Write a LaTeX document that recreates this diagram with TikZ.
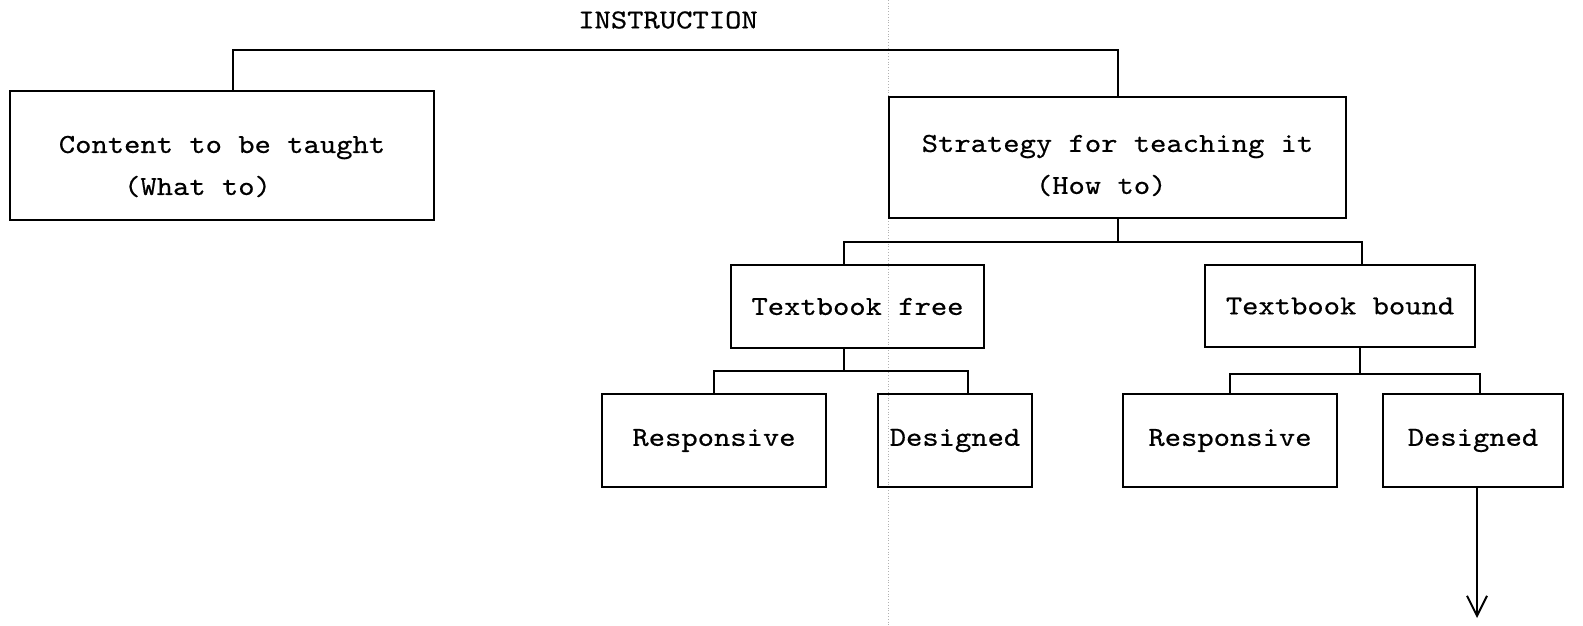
\documentclass[tikz,border=0pt]{standalone}
\usepackage{fontspec}
\newfontfamily\tw{lmmono10-regular.otf}[FakeStretch=1.13,FakeBold=0.5]
\usetikzlibrary{arrows.meta}
\begin{document}
\begin{tikzpicture}[x=1pt,y=-1pt,
  txt/.style={font=\tw\fontsize{27.5}{42}\selectfont},
  box/.style={draw, line width=2pt, inner sep=0pt, txt, align=center},
  conn/.style={line width=2pt},
  fold/.style={gray!60, line width=0.8pt, dotted}]
\useasboundingbox (0,0) rectangle (1583,625);
\draw[fold] (888,0) -- (888,625);
\node[txt] (instr) at (668,20) {INSTRUCTION};
\node[box, minimum width=424pt, minimum height=129pt] (content) at (222,155.5) {};
\node[txt, align=left] (contentlbl) at ([yshift=-11pt]content.center)
  {Content to be taught\\\phantom{Cont}(What to)};
\node[box, minimum width=457pt, minimum height=121pt] (strategy) at (1117.5,157.5) {};
\node[txt, align=left] (strategylbl) at ([yshift=-10pt]strategy.center)
  {Strategy for teaching it\\\phantom{Strateg}(How to)};
\node[box, minimum width=253pt, minimum height=83pt] (free) at (857.5,306.5) {Textbook free};
\node[box, minimum width=270pt, minimum height=82pt] (bound) at (1340,306) {Textbook bound};
\node[box, minimum width=224pt, minimum height=93pt] (resp1) at (714,440.5) {Responsive};
\node[box, minimum width=154pt, minimum height=93pt] (des1) at (955,440.5) {Designed};
\node[box, minimum width=214pt, minimum height=93pt] (resp2) at (1230,440.5) {Responsive};
\node[box, minimum width=180pt, minimum height=93pt] (des2) at (1473,440.5) {Designed};
\coordinate (bar1) at (668,49.5);
\coordinate (bar2) at (1117.5,242);
\coordinate (bar3) at (844,371);
\coordinate (bar4) at (1360,374);
\coordinate (arrend) at (1477,618);
\draw[conn] ([xshift=11pt]content.north) |- (bar1) -| (strategy.north);
\draw[conn] (strategy.south) -- (bar2);
\draw[conn] ([xshift=-13.5pt]free.north) |- (bar2) -| ([xshift=22pt]bound.north);
\draw[conn] ([xshift=-13.5pt]free.south) -- (bar3);
\draw[conn] (resp1.north) |- (bar3) -| ([xshift=13pt]des1.north);
\draw[conn] ([xshift=20pt]bound.south) -- (bar4);
\draw[conn] (resp2.north) |- (bar4) -| ([xshift=7pt]des2.north);
\draw[conn, -{Straight Barb[length=20pt,width=20pt,line width=2pt]}] ([xshift=4pt]des2.south) -- (arrend);
\end{tikzpicture}
\end{document}
